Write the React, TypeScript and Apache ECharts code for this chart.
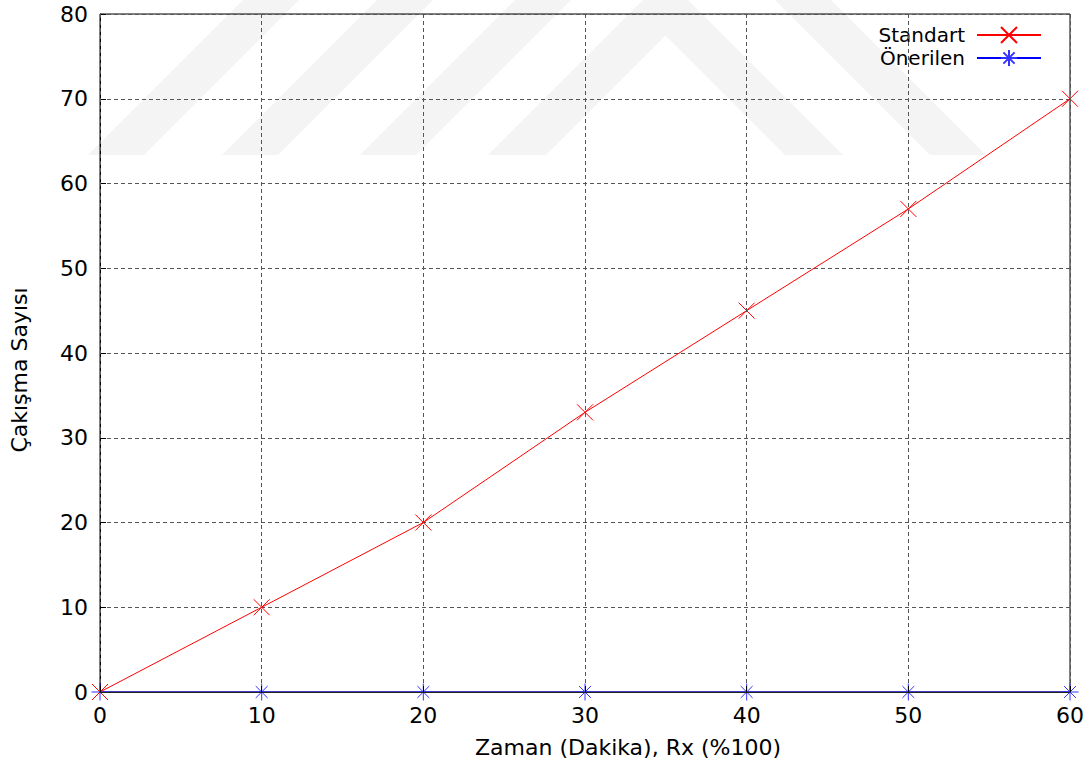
import React, { useEffect, useRef } from "react";
import * as echarts from "echarts";

const xValues = [0, 10, 20, 30, 40, 50, 60];
const standartValues = [0, 10, 20, 33, 45, 57, 70];
const onerilenValues = [0, 0, 0, 0, 0, 0, 0];
const seriesNames = ["Standart", "Önerilen"];
const xAxisTitle = "Zaman (Dakika), Rx (%100)";
const yAxisTitle = "Çakışma Sayısı";

const FONT = "DejaVu Sans";

const crossSymbol = "path://M0,0L10,10M10,0L0,10";
const starSymbol = "path://M0,5L10,5M5,0L5,10M1.5,1.5L8.5,8.5M8.5,1.5L1.5,8.5";

const wmColor = "#f4f4f4";
const watermark = [
  [[243, 0], [299, 0], [144, 155], [88, 155]],
  [[377, 0], [433, 0], [278, 155], [222, 155]],
  [[515, 0], [571, 0], [416, 155], [360, 155]],
  [[488, 155], [546, 155], [665.5, 35.5], [785, 155], [843, 155], [688, 0], [643, 0]],
  [[775, 0], [831, 0], [986, 155], [930, 155]],
];

export default function App() {
  const ref = useRef<HTMLDivElement>(null);
  useEffect(() => {
    if (!ref.current) return;
    const chart = echarts.init(ref.current, null, { renderer: "svg" });
    const pair = (vals: number[]) => xValues.map((x, i) => [x, vals[i]]);
    chart.setOption({
      animation: false,
      backgroundColor: "#ffffff",
      graphic: {
        elements: watermark.map((pts) => ({
          type: "polygon",
          z: -10,
          silent: true,
          shape: { points: pts },
          style: { fill: wmColor },
        })),
      },
      grid: {
        left: 100,
        right: 20,
        top: 14,
        bottom: 73,
        show: true,
        borderColor: "#000",
        borderWidth: 1,
        backgroundColor: "transparent",
      },
      legend: {
        orient: "vertical",
        right: 43,
        top: 20,
        align: "right",
        itemWidth: 64,
        itemHeight: 20,
        itemGap: 3,
        data: seriesNames,
        textStyle: { fontFamily: FONT, fontSize: 20, color: "#000", padding: [0, 7, 0, 0] },
      },
      xAxis: {
        type: "value",
        min: 0,
        max: 60,
        interval: 10,
        z: 10,
        name: xAxisTitle,
        nameLocation: "middle",
        nameGap: 44,
        nameTextStyle: { fontFamily: FONT, fontSize: 22, color: "#000", padding: [0, 0, 0, 86] },
        axisLine: { show: true, lineStyle: { color: "#222", width: 1 } },
        axisTick: { show: true, inside: true, length: 6, lineStyle: { color: "#000" } },
        axisLabel: { fontFamily: FONT, fontSize: 22, color: "#000", margin: 12 },
        splitLine: { show: true, lineStyle: { color: "#555", type: [4, 3], width: 1 } },
      },
      yAxis: {
        type: "value",
        min: 0,
        max: 80,
        interval: 10,
        name: yAxisTitle,
        nameLocation: "middle",
        nameGap: 70,
        nameTextStyle: { fontFamily: FONT, fontSize: 22, color: "#000", padding: [0, 34, 0, 0] },
        axisLine: { show: true, lineStyle: { color: "#000", width: 1 } },
        axisTick: { show: true, inside: true, length: 6, lineStyle: { color: "#000" } },
        axisLabel: { fontFamily: FONT, fontSize: 22, color: "#000", margin: 12 },
        splitLine: { show: true, lineStyle: { color: "#555", type: [4, 3], width: 1 } },
      },
      series: [
        {
          name: seriesNames[0],
          type: "line",
          data: pair(standartValues),
          symbol: crossSymbol,
          symbolSize: 16,
          showAllSymbol: true,
          lineStyle: { color: "#ff0000", width: 1 },
          itemStyle: { color: "transparent", borderColor: "#ff0000", borderWidth: 1 },
          z: 3,
        },
        {
          name: seriesNames[1],
          type: "line",
          data: pair(onerilenValues),
          symbol: starSymbol,
          symbolSize: 17,
          showAllSymbol: true,
          lineStyle: { color: "#0000ff", width: 1 },
          itemStyle: { color: "transparent", borderColor: "#3333ff", borderWidth: 1 },
          z: 2,
        },
      ],
    });
    return () => chart.dispose();
  }, []);
  return (
    <div
      ref={ref}
      style={{ position: "absolute", left: 0, top: 0, width: 1090, height: 765 }}
    />
  );
}
